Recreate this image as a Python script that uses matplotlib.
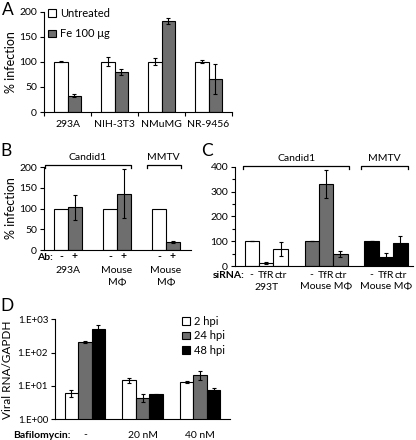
import numpy as np
import matplotlib
matplotlib.use('Agg')
import matplotlib.pyplot as plt
from matplotlib.transforms import blended_transform_factory as btf

plt.rcParams['font.family'] = ['Lato', 'DejaVu Sans']
FS = 7.5
plt.rcParams['font.size'] = FS

# ---------------- data ----------------
a_cells = ['293A', 'NIH-3T3', 'NMuMG', 'NR-9456']
a_untreated = [100, 100, 100, 100]
a_untreated_err = [1, 9, 7, 3]
a_fe = [32, 79, 182, 66]
a_fe_err = [3, 6, 6, 30]
a_series = ['Untreated', 'Fe 100 μg']

b_cells = ['293A', 'Mouse\nMΦ', 'Mouse\nMΦ']
b_ab_labels = ['-', '+']
b_ctrl = [100, 100, 100]
b_ab = [103, 136, 20]
b_ab_err = [30, 60, 2]

c_cells = ['293T', 'Mouse MΦ', 'Mouse MΦ']
c_sirna = ['-', 'TfR', 'ctr']
c_vals = [[100, 12, 70], [100, 332, 50], [100, 37, 93]]
c_err = [[0, 3, 28], [0, 57, 12], [0, 15, 28]]

d_conditions = ['-', '20 nM', '40 nM']
d_series = ['2 hpi', '24 hpi', '48 hpi']
d_vals = [[6.3, 15, 12.9], [214, 4.5, 21.4], [525, 5.6, 7.6]]
d_err = [[1.5, 2.5, 1.0], [15, 1.2, 6], [150, 0.2, 1.3]]
d_ticklabels = ['1.E+00', '1.E+01', '1.E+02', '1.E+03']

# ---------------- style ----------------
GRAY = '#6e6e6e'
W, H = 416, 440
fig = plt.figure(figsize=(W / 100, H / 100), dpi=100)


def rect(l, t, r, b):
    return [l / W, 1 - b / H, (r - l) / W, (b - t) / H]


def fy(y):
    return 1 - y / H


def ft(x, y, s, **kw):
    kw.setdefault('ha', 'center')
    kw.setdefault('va', 'center')
    fig.text(x / W, fy(y), s, **kw)


def style(ax):
    for s in ['top', 'right']:
        ax.spines[s].set_visible(False)
    for s in ['left', 'bottom']:
        ax.spines[s].set_linewidth(0.8)
    ax.tick_params(axis='y', direction='out', length=3, width=0.8, pad=2, labelsize=FS)


ebkw = dict(fmt='none', ecolor='black', elinewidth=0.8, capsize=1.6, capthick=0.8, zorder=3)
barkw = dict(edgecolor='black', linewidth=0.8, zorder=2)


def bracket(ax, x0, x1, y, label):
    tr = btf(ax.transData, fig.transFigure)
    d = 3 / H
    ax.plot([x0, x0, x1, x1], [fy(y) - d, fy(y), fy(y), fy(y) - d], color='black',
            lw=0.9, transform=tr, clip_on=False)
    ax.text((x0 + x1) / 2, fy(y - 8), label, transform=tr, ha='center', va='center', fontsize=FS)


# ---------------- Panel A ----------------
axA = fig.add_axes(rect(44, 11.7, 232, 112))
style(axA)
xa = np.arange(len(a_cells))
wa = 0.29
axA.bar(xa - wa / 2, a_untreated, wa, color='white', label=a_series[0], **barkw)
axA.bar(xa + wa / 2, a_fe, wa, color=GRAY, label=a_series[1], **barkw)
axA.errorbar(xa - wa / 2, a_untreated, yerr=a_untreated_err, **ebkw)
axA.errorbar(xa + wa / 2, a_fe, yerr=a_fe_err, **ebkw)
axA.set_ylim(0, 200)
axA.set_yticks(range(0, 201, 50))
axA.set_xlim(-0.5, len(a_cells) - 0.5)
axA.set_xticks(np.arange(-0.5, len(a_cells)), [''] * (len(a_cells) + 1))
axA.set_xticks(xa, a_cells, minor=True)
axA.tick_params(axis='x', which='major', direction='out', length=3, width=0.8)
axA.tick_params(axis='x', which='minor', length=0, pad=6, labelsize=FS)
axA.legend(loc='upper left', bbox_to_anchor=(48 / W, fy(8)), bbox_transform=fig.transFigure,
           frameon=False, handlelength=0.7, handleheight=0.7, handletextpad=0.35,
           labelspacing=0.85, borderpad=0, borderaxespad=0, fontsize=FS + 0.5)
ft(11, 62, '% infection', rotation=90, fontsize=9)
ft(8, 10, 'A', fontsize=12.5)

# ---------------- Panel B ----------------
axB = fig.add_axes(rect(44, 167, 191, 250))
style(axB)
xb = np.arange(len(b_cells))
wb = 0.285
axB.bar(xb - wb / 2, b_ctrl, wb, color='white', **barkw)
axB.bar(xb + wb / 2, b_ab, wb, color=GRAY, **barkw)
axB.errorbar(xb + wb / 2, b_ab, yerr=b_ab_err, **ebkw)
axB.set_ylim(0, 200)
axB.set_yticks(range(0, 201, 50))
axB.set_xlim(-0.49, 2.51)
axB.set_xticks([])
trB = btf(axB.transData, fig.transFigure)
for i in xb:
    axB.text(i - wb / 2, fy(257), b_ab_labels[0], transform=trB, ha='center', va='center',
             fontsize=FS, fontweight='bold')
    axB.text(i + wb / 2, fy(257), b_ab_labels[1], transform=trB, ha='center', va='center',
             fontsize=FS, fontweight='bold')
    axB.text(i, fy(266), b_cells[i], transform=trB, ha='center', va='top', fontsize=FS,
             linespacing=1.4)
ft(45, 257, 'Ab:', fontsize=FS, fontweight='bold')
bracket(axB, -0.47, 1 + wb, 165, 'Candid1')
bracket(axB, 2 - 0.39, 2 + 0.30, 165, 'MMTV')
ft(11, 208, '% infection', rotation=90, fontsize=9)
ft(6, 151, 'B', fontsize=12.5)

# ---------------- Panel C ----------------
axC = fig.add_axes(rect(235, 167, 413, 266))
style(axC)
xc = np.arange(len(c_cells))
wc = 0.24
c_colors = ['white', GRAY, 'black']
for g in xc:
    pos = g + (np.arange(len(c_sirna)) - 1) * wc
    axC.bar(pos, c_vals[g], wc, color=c_colors[g], **barkw)
    axC.errorbar(pos, c_vals[g], yerr=c_err[g], **ebkw)
axC.set_ylim(0, 400)
axC.set_yticks(range(0, 401, 100))
axC.set_yticks(range(50, 400, 100), minor=True)
axC.tick_params(axis='y', which='minor', direction='out', length=2.5, width=0.8)
axC.set_xlim(-0.52, 2.45)
axC.set_xticks([])
trC = btf(axC.transData, fig.transFigure)
for g in xc:
    for k, lab in enumerate(c_sirna):
        axC.text(g + (k - 1) * wc, fy(275), lab, transform=trC, ha='center', va='center',
                 fontsize=FS)
    axC.text(g, fy(287), c_cells[g], transform=trC, ha='center', va='center', fontsize=FS)
ft(245, 275, 'siRNA:', ha='right', fontsize=FS, fontweight='bold')
bracket(axC, -0.39, 1.39, 166, 'Candid1')
bracket(axC, 2 - 0.42, 2 + 0.37, 166, 'MMTV')
ft(207, 151, 'C', fontsize=12.5)

# ---------------- Panel D ----------------
axD = fig.add_axes(rect(55, 319.3, 230, 419.3))
style(axD)
xd = np.arange(len(d_conditions))
wd = 0.235
d_colors = ['white', GRAY, 'black']
for k in range(len(d_series)):
    pos = xd + (k - 1) * wd
    axD.bar(pos, d_vals[k], wd, color=d_colors[k], label=d_series[k], **barkw)
    axD.errorbar(pos, d_vals[k], yerr=d_err[k], **ebkw)
axD.set_yscale('log')
axD.set_ylim(1, 1000)
axD.set_yticks([1, 10, 100, 1000], d_ticklabels)
axD.minorticks_off()
axD.tick_params(axis='y', which='major', labelsize=FS - 0.5)
axD.set_xlim(-0.52, 2.52)
axD.set_xticks([])
axD.legend(loc='upper left', bbox_to_anchor=(182 / W, fy(316)), bbox_transform=fig.transFigure,
           frameon=False, handlelength=0.7, handleheight=0.7, handletextpad=0.35,
           labelspacing=0.3, borderpad=0, borderaxespad=0, fontsize=FS + 0.5)
trD = btf(axD.transData, fig.transFigure)
for i in xd:
    axD.text(i, fy(435), d_conditions[i], transform=trD, ha='center', va='center', fontsize=FS)
ft(13, 435, 'Bafilomycin:', ha='left', fontsize=FS, fontweight='bold')
ft(8, 370, 'Viral RNA/GAPDH', rotation=90, fontsize=8.5)
ft(7, 306, 'D', fontsize=12.5)

fig.savefig('out.png', dpi=100)
